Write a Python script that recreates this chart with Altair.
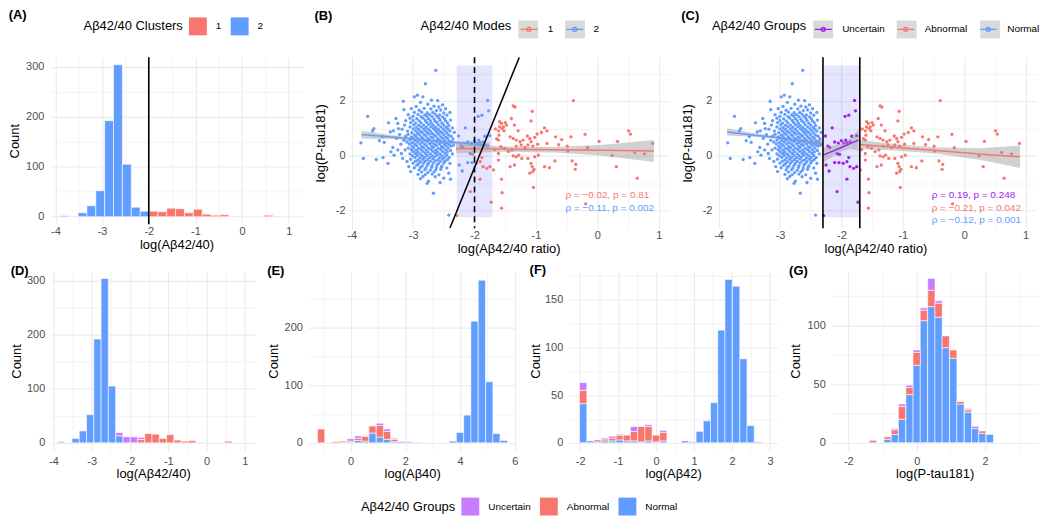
import altair as alt
import pandas as pd

FONT = "Liberation Sans"
BLUE = "#619CFF"
RED = "#F8766D"
LIGHT_PURPLE = "#C77CFF"
PURPLE = "#A020F0"
GRID = "#EBEBEB"

GROUPS = ["Uncertain", "Abnormal", "Normal"]
MODES = ["1", "2"]

# ---------------- histogram data (bin centres and counts) ----------------
ratio_bin_width = 0.19
ratio_centers = [-3.80, -3.61, -3.42, -3.23, -3.04, -2.85, -2.66, -2.47, -2.28, -2.09,
                 -1.90, -1.71, -1.52, -1.33, -1.14, -0.95, -0.76, -0.57, -0.38, -0.19,
                 0.00, 0.19, 0.38, 0.57]
cluster2_counts = [2, 0, 8, 22, 52, 192, 304, 105, 19, 11, 0, 0, 0, 0, 0, 0, 0, 0, 0, 0, 0, 0, 0, 0]
cluster1_counts = [0, 0, 0, 0, 0, 0, 0, 0, 0, 0, 11, 10, 17, 16, 8, 15, 5, 3, 4, 1, 0, 0, 0, 3]
ratio_normal = [2, 0, 8, 22, 52, 192, 304, 105, 13, 0, 0, 0, 0, 0, 0, 0, 0, 0, 0, 0, 0, 0, 0, 0]
ratio_abnormal = [0, 0, 0, 0, 0, 0, 0, 0, 0, 0, 0, 6, 17, 16, 8, 15, 5, 3, 4, 1, 0, 0, 0, 3]
ratio_uncertain = [0, 0, 0, 0, 0, 0, 0, 0, 6, 11, 11, 4, 0, 0, 0, 0, 0, 0, 0, 0, 0, 0, 0, 0]
cluster_threshold = [-2.0]

ab40_bin_width = 0.2667
ab40_centers = [-1.08, -0.81, -0.55, -0.28, 0.00, 0.27, 0.53, 0.80, 1.07, 1.33, 1.60, 1.87, 2.13,
                2.40, 2.67, 2.93, 3.20, 3.47, 3.73, 4.00, 4.27, 4.53, 4.80, 5.07, 5.33, 5.60]
ab40_normal = [0, 0, 0, 1, 1, 4, 3, 17, 10, 6, 2, 2, 0, 0, 0, 0, 0, 0, 3, 18, 48, 211, 282, 106, 16, 4]
ab40_abnormal = [24, 0, 2, 2, 2, 4, 8, 12, 20, 14, 4, 0, 0, 0, 0, 0, 0, 0, 0, 0, 0, 0, 0, 0, 0, 0]
ab40_uncertain = [0, 0, 0, 0, 4, 4, 0, 0, 4, 4, 2, 0, 2, 1, 0, 0, 0, 0, 0, 0, 0, 0, 0, 0, 0, 0]

ab42_bin_width = 0.1916
ab42_centers = [-1.92, -1.73, -1.54, -1.35, -1.15, -0.96, -0.77, -0.58, -0.39, -0.20, 0.00, 0.19,
                0.38, 0.57, 0.76, 0.95, 1.15, 1.34, 1.53, 1.72, 1.91, 2.11, 2.30, 2.49, 2.68]
ab42_normal = [41, 2, 1, 2, 2, 3, 2, 2, 1, 2, 1, 2, 0, 0, 2, 1, 12, 23, 42, 118, 171, 164, 88, 18, 1]
ab42_abnormal = [14, 0, 2, 2, 3, 5, 6, 10, 16, 15, 7, 9, 0, 0, 0, 0, 0, 0, 0, 0, 0, 0, 0, 0, 0]
ab42_uncertain = [8, 0, 0, 1, 2, 1, 0, 5, 0, 2, 0, 2, 0, 0, 0, 0, 0, 0, 0, 0, 0, 0, 0, 0, 0]

ptau_bin_width = 0.2136
ptau_centers = [-1.28, -1.07, -0.85, -0.64, -0.43, -0.21, 0.00, 0.21, 0.43, 0.64, 0.85, 1.07,
                1.28, 1.50, 1.71, 1.92, 2.14]
ptau_normal = [0, 0, 3, 7, 20, 41, 66, 104, 116, 107, 81, 72, 33, 26, 12, 8, 7]
ptau_abnormal = [2, 0, 2, 4, 11, 6, 11, 9, 14, 12, 10, 7, 2, 2, 0, 2, 0]
ptau_uncertain = [0, 0, 0, 1, 2, 2, 2, 2, 10, 2, 0, 0, 0, 1, 2, 0, 0]

# ---------------- scatter data: (log Aβ42/40 ratio, log P-tau181) ----------------
normal_points = [
    (-2.63, 3.12), (-2.80, 2.63), (-2.93, 2.21), (-2.98, 2.15), (-2.84, 2.15),
    (-2.70, 2.03), (-2.60, 2.01), (-3.16, 1.99), (-2.88, 1.95), (-2.76, 1.88), (-2.52, 1.86),
    (-2.95, 1.80), (-2.66, 1.81), (-2.58, 1.78), (-3.03, 1.72), (-2.82, 1.73), (-2.71, 1.71), (-2.47, 1.72),
    (-3.15, 1.68), (-2.90, 1.66), (-2.62, 1.65), (-2.55, 1.67),
    (-2.98, 1.58), (-2.86, 1.59), (-2.77, 1.57), (-2.68, 1.58), (-2.50, 1.56), (-2.40, 1.58),
    (-3.08, 1.50), (-2.92, 1.51), (-2.81, 1.49), (-2.73, 1.50), (-2.64, 1.52), (-2.57, 1.49), (-2.45, 1.48),
    (-3.74, 1.44), (-3.00, 1.44), (-2.87, 1.43), (-2.78, 1.45), (-2.69, 1.43), (-2.61, 1.44), (-2.52, 1.42),
    (-3.28, 1.36), (-3.05, 1.37), (-2.94, 1.35), (-2.84, 1.37), (-2.75, 1.36), (-2.66, 1.34), (-2.58, 1.37),
    (-2.49, 1.35), (-2.39, 1.30),
    (-3.12, 1.28), (-3.00, 1.29), (-2.90, 1.27), (-2.80, 1.29), (-2.72, 1.28), (-2.64, 1.26), (-2.56, 1.29), (-2.47, 1.27),
    (-3.40, 1.20), (-3.25, 1.18), (-3.04, 1.21), (-2.96, 1.19), (-2.87, 1.20), (-2.78, 1.22), (-2.70, 1.19),
    (-2.61, 1.21), (-2.53, 1.19), (-2.44, 1.20),
    (-3.14, 1.12), (-2.99, 1.13), (-2.91, 1.11), (-2.83, 1.12), (-2.75, 1.14), (-2.67, 1.11), (-2.59, 1.13),
    (-2.50, 1.12), (-2.42, 1.10),
    (-3.24, 0.99), (-3.05, 1.05), (-2.95, 1.03), (-2.87, 1.05), (-2.79, 1.04), (-2.71, 1.06), (-2.63, 1.03),
    (-2.55, 1.05), (-2.46, 1.04), (-2.36, 1.02),
    (-3.64, 0.99), (-3.18, 0.97), (-3.00, 0.98), (-2.91, 0.96), (-2.83, 0.98), (-2.75, 0.97), (-2.67, 0.99),
    (-2.59, 0.96), (-2.51, 0.98), (-2.43, 0.97),
    (-3.66, 0.91), (-3.32, 0.91), (-3.09, 0.90), (-2.96, 0.91), (-2.88, 0.89), (-2.80, 0.91), (-2.72, 0.90),
    (-2.64, 0.92), (-2.56, 0.89), (-2.48, 0.91), (-2.40, 0.90),
    (-3.37, 0.87), (-3.02, 0.84), (-2.93, 0.83), (-2.85, 0.85), (-2.77, 0.84), (-2.69, 0.82), (-2.61, 0.85),
    (-2.53, 0.84), (-2.45, 0.83), (-2.33, 0.85),
    (-3.22, 0.77), (-3.08, 0.78), (-2.98, 0.76), (-2.90, 0.78), (-2.82, 0.77), (-2.74, 0.79), (-2.66, 0.76),
    (-2.58, 0.78), (-2.50, 0.77), (-2.42, 0.75),
    (-3.50, 0.70), (-3.12, 0.71), (-3.03, 0.69), (-2.95, 0.71), (-2.87, 0.70), (-2.79, 0.72), (-2.71, 0.69),
    (-2.63, 0.71), (-2.55, 0.70), (-2.47, 0.68), (-2.38, 0.71),
    (-3.27, 0.63), (-3.00, 0.64), (-2.92, 0.62), (-2.84, 0.64), (-2.76, 0.63), (-2.68, 0.65), (-2.60, 0.62),
    (-2.52, 0.64), (-2.44, 0.63), (-2.35, 0.61),
    (-3.55, 0.55), (-3.15, 0.56), (-3.05, 0.57), (-2.97, 0.55), (-2.89, 0.57), (-2.81, 0.56), (-2.73, 0.58),
    (-2.65, 0.55), (-2.57, 0.57), (-2.49, 0.56), (-2.41, 0.54),
    (-3.85, 0.47), (-3.47, 0.49), (-3.10, 0.50), (-3.01, 0.48), (-2.93, 0.50), (-2.85, 0.49), (-2.77, 0.51),
    (-2.69, 0.48), (-2.61, 0.50), (-2.53, 0.49), (-2.45, 0.47), (-2.37, 0.50),
    (-3.20, 0.42), (-3.06, 0.43), (-2.97, 0.41), (-2.89, 0.43), (-2.81, 0.42), (-2.73, 0.44), (-2.65, 0.41),
    (-2.57, 0.43), (-2.49, 0.42), (-2.41, 0.40), (-2.34, 0.39),
    (-3.33, 0.30), (-3.02, 0.35), (-2.94, 0.36), (-2.86, 0.34), (-2.78, 0.36), (-2.70, 0.35), (-2.62, 0.37),
    (-2.54, 0.34), (-2.46, 0.36), (-2.38, 0.35),
    (-3.25, 0.21), (-3.08, 0.28), (-2.99, 0.29), (-2.91, 0.27), (-2.83, 0.29), (-2.75, 0.28), (-2.67, 0.30),
    (-2.59, 0.27), (-2.51, 0.29), (-2.43, 0.28),
    (-3.13, 0.21), (-3.03, 0.22), (-2.95, 0.20), (-2.87, 0.22), (-2.79, 0.21), (-2.71, 0.23), (-2.63, 0.20),
    (-2.55, 0.22), (-2.47, 0.21), (-2.39, 0.19),
    (-3.36, 0.14), (-3.00, 0.15), (-2.92, 0.13), (-2.84, 0.15), (-2.76, 0.14), (-2.68, 0.16), (-2.60, 0.13),
    (-2.52, 0.15), (-2.44, 0.14),
    (-3.19, 0.08), (-3.05, 0.07), (-2.96, 0.08), (-2.88, 0.06), (-2.80, 0.08), (-2.72, 0.07), (-2.64, 0.09),
    (-2.56, 0.06), (-2.48, 0.08), (-2.36, 0.07),
    (-3.31, 0.02), (-3.01, 0.00), (-2.93, 0.01), (-2.85, -0.01), (-2.77, 0.01), (-2.69, 0.00), (-2.61, 0.02),
    (-2.53, -0.01), (-2.45, 0.01),
    (-3.81, -0.10), (-3.49, -0.07), (-3.17, -0.10), (-2.97, -0.06), (-2.89, -0.08), (-2.81, -0.06),
    (-2.73, -0.07), (-2.65, -0.05), (-2.57, -0.08), (-2.49, -0.06), (-2.41, -0.07),
    (-3.60, -0.14), (-3.04, -0.13), (-2.92, -0.15), (-2.84, -0.13), (-2.76, -0.14), (-2.68, -0.12),
    (-2.60, -0.15), (-2.52, -0.13), (-2.44, -0.14),
    (-3.10, -0.21), (-2.96, -0.20), (-2.88, -0.22), (-2.80, -0.20), (-2.72, -0.21), (-2.64, -0.19),
    (-2.56, -0.22), (-2.48, -0.20),
    (-3.41, -0.28), (-3.00, -0.27), (-2.91, -0.29), (-2.83, -0.27), (-2.75, -0.28), (-2.67, -0.26),
    (-2.59, -0.29), (-2.50, -0.27), (-2.40, -0.28),
    (-3.07, -0.40), (-2.94, -0.35), (-2.85, -0.37), (-2.77, -0.35), (-2.69, -0.36), (-2.61, -0.34), (-2.53, -0.37),
    (-2.98, -0.44), (-2.88, -0.43), (-2.79, -0.45), (-2.70, -0.43), (-2.62, -0.44), (-2.54, -0.42), (-2.45, -0.45),
    (-3.04, -0.58), (-2.90, -0.52), (-2.81, -0.51), (-2.72, -0.53), (-2.63, -0.52), (-2.55, -0.50),
    (-2.86, -0.60), (-2.76, -0.61), (-2.66, -0.59), (-2.42, -0.64),
    (-2.92, -0.68), (-2.80, -0.69), (-2.69, -0.67), (-2.58, -0.70),
    (-2.84, -0.76), (-2.64, -0.77), (-2.50, -0.82),
    (-2.88, -0.84), (-2.39, -0.86),
    (-2.75, -0.93), (-2.56, -0.98),
    (-2.77, -1.01), (-2.67, -1.37), (-2.42, -2.17),
]

# points in the uncertain window, with their mode in panel (B)
uncertain_points = [
    (-1.785, 2.02, "2"), (-1.94, 1.44, "2"), (-1.88, 1.48, "2"), (-1.77, 1.64, "2"), (-2.15, 1.02, "2"),
    (-2.26, 0.72, "2"), (-2.00, 0.55, "2"), (-2.05, 0.46, "2"), (-2.11, 0.50, "2"), (-1.96, 0.46, "2"),
    (-1.91, 0.48, "2"), (-1.86, 0.50, "2"), (-1.83, 0.71, "2"), (-1.75, 0.73, "2"), (-1.93, 0.57, "2"),
    (-2.22, 0.35, "2"), (-2.19, 0.30, "2"), (-2.07, 0.08, "2"), (-2.03, 0.05, "1"), (-2.11, -0.25, "2"),
    (-2.04, -0.25, "2"), (-1.97, -0.28, "1"), (-1.91, -0.22, "1"), (-1.88, -0.07, "1"), (-2.25, -0.34, "2"),
    (-2.20, -0.56, "2"), (-1.86, -0.40, "1"), (-1.75, -0.40, "1"), (-1.80, -0.46, "1"), (-1.91, -0.86, "1"),
    (-2.07, -1.31, "1"), (-2.29, -2.19, "1"), (-1.73, -1.70, "1"),
]

abnormal_points = [
    (-0.39, 2.01), (-1.37, 1.82), (-1.34, 1.78), (-1.06, 1.62), (-1.40, 1.36), (-1.08, 1.27),
    (-1.59, 1.24), (-1.56, 1.18), (-1.50, 1.21), (-1.48, 1.12), (-1.53, 1.05), (-1.59, 1.05), (-1.55, 0.99),
    (-1.52, 0.91), (-1.61, 0.91), (-1.60, 0.75), (-1.66, 0.98), (-1.64, 0.62), (-1.35, 1.12), (-1.29, 0.91),
    (-0.86, 1.02), (-0.82, 0.91), (-0.91, 0.85), (-0.98, 0.79), (-1.14, 0.72), (-1.21, 0.57), (-1.26, 0.51),
    (-1.32, 0.57), (-1.37, 0.63), (-1.42, 0.69), (-1.02, 0.67), (-1.10, 0.63), (-1.08, 0.51), (-0.97, 0.42),
    (-1.05, 0.35), (-1.13, 0.39), (-1.18, 0.30), (-1.24, 0.39), (-1.32, 0.35), (-1.39, 0.21), (-1.45, 0.15),
    (-1.51, 0.27), (-1.57, 0.33), (-1.61, 0.57), (-1.61, 0.08), (-1.67, 0.22), (-1.37, -0.01), (-1.32, -0.04),
    (-1.28, 0.02), (-1.23, -0.10), (-1.42, -0.40), (-1.35, -0.34), (-1.13, -0.10), (-1.02, -0.04), (-0.96, 0.02),
    (-1.08, -0.28), (-1.06, -0.40), (-1.03, -0.50), (-1.10, -0.64), (-1.05, -0.58), (-0.86, -0.40),
    (-0.78, -0.44), (-0.82, 0.45), (-0.68, 0.69), (-0.58, 0.59), (-0.43, 0.69), (-0.49, 0.35), (-0.63, 0.40),
    (-0.48, 0.17), (-0.69, -0.19), (-0.41, -0.19), (-0.35, -0.32), (-0.36, -0.50), (-0.20, 0.78),
    (-0.16, 0.29), (0.03, 0.52), (0.24, 0.00), (0.31, -0.40), (0.33, 0.52), (0.51, 0.91), (0.54, 0.79),
    (0.61, 0.12), (0.77, 0.07), (0.65, -0.82), (0.90, 0.45), (-0.19, -1.76), (-1.56, -0.86),
    (-1.55, -1.35), (-1.56, -1.92), (-1.04, -1.16), (-1.69, -0.52), (-1.61, -0.16),
]

# fitted lines and 95% bands
fitB2_x = [-3.84, -3.30, -2.75, -2.25, -1.76]
fitB2_y = [0.77, 0.67, 0.56, 0.47, 0.37]
fitB2_lo = [0.63, 0.60, 0.52, 0.41, 0.25]
fitB2_hi = [0.91, 0.74, 0.60, 0.53, 0.49]
fitB1_x = [-2.30, -1.50, -0.70, 0.10, 0.92]
fitB1_y = [0.26, 0.24, 0.22, 0.20, 0.17]
fitB1_lo = [0.08, 0.14, 0.12, 0.00, -0.23]
fitB1_hi = [0.44, 0.34, 0.32, 0.40, 0.57]

fitN_x = [-3.86, -3.45, -3.05, -2.68, -2.31]
fitN_y = [0.87, 0.76, 0.66, 0.55, 0.45]
fitN_lo = [0.74, 0.69, 0.61, 0.49, 0.34]
fitN_hi = [1.00, 0.83, 0.71, 0.61, 0.56]
fitU_x = [-2.30, -2.15, -2.00, -1.86, -1.72]
fitU_y = [0.02, 0.16, 0.30, 0.44, 0.57]
fitU_lo = [-0.26, -0.04, 0.16, 0.24, 0.18]
fitU_hi = [0.30, 0.36, 0.44, 0.64, 0.96]
fitA_x = [-1.71, -1.05, -0.40, 0.25, 0.91]
fitA_y = [0.41, 0.29, 0.18, 0.06, -0.04]
fitA_lo = [0.24, 0.18, 0.06, -0.15, -0.45]
fitA_hi = [0.58, 0.40, 0.30, 0.27, 0.37]

window_x = [-2.29, -1.71]
window_y = [-2.25, 3.30]
window_lines = [-2.3, -1.7]
mode_cut = [-2.0]
sep_line_x = [-2.40, -1.27]
sep_line_y = [-2.64, 3.60]

annB_text = ["ρ = −0.02, p = 0.81", "ρ = −0.11, p = 0.002"]
annB_mode = ["1", "2"]
annB_x = [-0.52, -0.52]
annB_y = [-1.45, -1.93]
annC_text = ["ρ = 0.19, p = 0.248", "ρ = −0.21, p = 0.042", "ρ = −0.12, p = 0.001"]
annC_group = ["Uncertain", "Abnormal", "Normal"]
annC_x = [-0.53, -0.53, -0.53]
annC_y = [-1.42, -1.90, -2.36]

# tick / grid positions
ratio_ticks = [-4, -3.5, -3, -2.5, -2, -1.5, -1, -0.5, 0, 0.5, 1]
count_ticks_300 = [0, 50, 100, 150, 200, 250, 300]
ptau_axis_ticks = [-2, -1, 0, 1, 2, 3]
ab40_ticks = [-1, 0, 1, 2, 3, 4, 5, 6]
count_ticks_250 = [0, 50, 100, 150, 200, 250]
ab42_ticks = [-2, -1.5, -1, -0.5, 0, 0.5, 1, 1.5, 2, 2.5, 3]
count_ticks_175 = [0, 25, 50, 75, 100, 125, 150, 175]
ptau_ticks = [-2, -1, 0, 1, 2, 3]
count_ticks_125 = [0, 25, 50, 75, 100, 125]

# ---------------- helpers ----------------
def stacked(centers, width, series):
    rows = []
    base = [0] * len(centers)
    for name, counts in series:
        for i, n in enumerate(counts):
            if n > 0:
                rows.append({"x0": centers[i] - width / 2, "x1": centers[i] + width / 2,
                             "y0": base[i], "y1": base[i] + n, "grp": name})
                base[i] += n
    return pd.DataFrame(rows)


def gaxis(title, values, major, label_pad=3, title_pad=2):
    test = f"abs(datum.value % {major}) < 1e-9"
    return alt.Axis(title=title, values=values,
                    labelExpr=f"({test}) ? '' + datum.value : ''",
                    gridWidth={"condition": {"test": f"!({test})", "value": 0.6}, "value": 1.1},
                    labelPadding=label_pad, titlePadding=title_pad,
                    labelOverlap=False, labelFlush=False)


def sc(dom):
    return alt.Scale(domain=dom, nice=False, zero=False)


def tag(text, offset):
    return alt.TitleParams(text, anchor="start", offset=offset)


SQUARE_LEG = dict(orient="none", direction="horizontal", titleOrient="left",
                  titleAnchor="middle", titleBaseline="middle",
                  symbolType="square", symbolSize=324, symbolStrokeWidth=0,
                  labelOffset=9, columnPadding=9, titlePadding=6)

RECT_PATH = "M-1,-0.9H1V0.9H-1Z"
LINE_DOT = "M-0.85,0H0.85M-0.2,0A0.2,0.2,0,1,0,0.2,0A0.2,0.2,0,1,0,-0.2,0Z"

cluster_scale = alt.Scale(domain=MODES, range=[RED, BLUE])
group_hist_scale = alt.Scale(domain=GROUPS, range=[LIGHT_PURPLE, RED, BLUE])
group_scatter_scale = alt.Scale(domain=GROUPS, range=[PURPLE, RED, BLUE])


def hist_panel(df, label, xdom, xticks, xmajor, xtitle, ydom, yticks, ymajor, w, h,
               label_pad, title_pad, tag_offset, x_pads=(5, 1), legend=None, scale=group_hist_scale,
               rule_values=None):
    ax = gaxis(xtitle, xticks, xmajor, x_pads[0], x_pads[1])
    x = alt.X("x0:Q", scale=sc(xdom), axis=ax)
    y = alt.Y("y0:Q", scale=sc(ydom), axis=gaxis("Count", yticks, ymajor, label_pad, title_pad))
    bars = alt.Chart(df).mark_bar(stroke="white", strokeWidth=0.6).encode(
        x=x, x2="x1:Q", y=y, y2="y1:Q",
        color=alt.Color("grp:N", scale=scale, legend=legend))
    layers = [bars]
    if rule_values is not None:
        layers.append(alt.Chart(pd.DataFrame({"x0": rule_values})).mark_rule(color="black", strokeWidth=1.6)
                      .encode(x=x))
    return alt.layer(*layers).properties(width=w, height=h, title=tag(label, tag_offset))


# ---------------- panel A ----------------
dfA = stacked(ratio_centers, ratio_bin_width, [("2", cluster2_counts), ("1", cluster1_counts)])
legA = alt.Legend(title="Aβ42/40 Clusters", legendX=33, legendY=-40, **SQUARE_LEG)
panelA = hist_panel(dfA, "(A)", [-4.1, 1.29], ratio_ticks, 1, "log(Aβ42/40)", [-15, 319], count_ticks_300, 100,
                    253, 168, 7, 4, -5, x_pads=(1.5, 2), legend=legA, scale=cluster_scale,
                    rule_values=cluster_threshold)

# ---------------- scatter panels ----------------
SX = [-4.06, 1.17]
SY = [-2.65, 3.60]
AX_S = gaxis("log(Aβ42/40 ratio)", ratio_ticks, 1, 1, 2)
AY_S = gaxis("log(P-tau181)", ptau_axis_ticks, 2, 3, 8)

rows = []
for x, y in normal_points:
    rows.append({"x": x, "y": y, "group": "Normal", "mode": "2"})
for x, y, m in uncertain_points:
    rows.append({"x": x, "y": y, "group": "Uncertain", "mode": m})
for x, y in abnormal_points:
    rows.append({"x": x, "y": y, "group": "Abnormal", "mode": "1"})
pts = pd.DataFrame(rows)


def fit_df(specs, key):
    out = []
    for k, xs_, ys_, lo, hi in specs:
        for a, b, c, d in zip(xs_, ys_, lo, hi):
            out.append({key: k, "fx": a, "fy": b, "lo": c, "hi": d})
    return pd.DataFrame(out)


def xs(field):
    return alt.X(field, type="quantitative", scale=sc(SX), axis=AX_S)


def ys(field):
    return alt.Y(field, type="quantitative", scale=sc(SY), axis=AY_S)


window_df = pd.DataFrame({"x0": [window_x[0]], "x1": [window_x[1]], "y0": [window_y[0]], "y1": [window_y[1]]})


def scatter_panel(label, key, scale, legend_title, legend_x, title_width, fits, ann, extra_top):
    window = alt.Chart(window_df).mark_rect(color="#0000FF", opacity=0.1).encode(
        x=xs("x0"), x2="x1:Q", y=ys("y0"), y2="y1:Q")
    # same colours, domain listed in reverse order so this (legend-less) scale is kept apart from the legend one
    fill_scale = alt.Scale(domain=list(reversed(scale.domain)), range=list(reversed(scale.range)))
    points = alt.Chart(pts).mark_circle(size=11, opacity=1).encode(
        x=xs("x"), y=ys("y"), fill=alt.Fill(f"{key}:N", scale=fill_scale, legend=None))
    fdf = fit_df(fits, key)
    band = alt.Chart(fdf).mark_area(color="#999999", opacity=0.45, clip=True).encode(
        x=xs("fx"), y=ys("lo"), y2="hi:Q", detail=f"{key}:N")
    common = dict(orient="none", legendY=-39, direction="horizontal",
                  titleOrient="left", titleAnchor="middle", titleBaseline="middle",
                  symbolSize=400, symbolStrokeWidth=1.4, labelOffset=8, columnPadding=9, titlePadding=6)
    line_leg = alt.Legend(title=legend_title, symbolType=LINE_DOT, zindex=2, legendX=legend_x, **common)
    lines = alt.Chart(fdf).mark_line(strokeWidth=1.5, clip=True).encode(
        x=xs("fx"), y=ys("fy"), color=alt.Color(f"{key}:N", scale=scale, legend=line_leg))
    # grey key backgrounds: an untitled legend placed where the entries of the line legend start
    gray_leg = alt.Legend(title=None, symbolFillColor="#D9D9D9", symbolStrokeColor="#D9D9D9",
                          labelOpacity=0, zindex=1, legendX=legend_x + title_width + 6,
                          labelExpr="replace(datum.label, '_', '')", **common)
    key_domain = [d + "_" for d in scale.domain]
    keys = alt.Chart(pts).mark_point(filled=True, color="#D9D9D9", size=400, opacity=1).encode(
        x=xs("x"), y=ys("y"),
        shape=alt.Shape("gkey:N", scale=alt.Scale(domain=key_domain, range=[RECT_PATH] * len(key_domain)),
                        legend=gray_leg)
    ).transform_calculate(gkey=f"datum['{key}'] + '_'").transform_filter("false")
    adf = pd.DataFrame(ann)
    texts = alt.Chart(adf).mark_text(align="left", baseline="middle", fontSize=10, font=FONT).encode(
        x=xs("ax"), y=ys("ay"), text="t:N", fill=alt.Fill(f"{key}:N", scale=fill_scale, legend=None))
    return alt.layer(window, points, band, lines, *extra_top, texts, keys).properties(
        width=323, height=172, title=tag(label, -5))


mode_dash = alt.Chart(pd.DataFrame({"v": mode_cut})).mark_rule(
    color="black", strokeWidth=1.6, strokeDash=[6, 4]).encode(x=xs("v"))
sep = alt.Chart(pd.DataFrame({"lx": sep_line_x, "ly": sep_line_y})).mark_line(
    color="black", strokeWidth=1.5, clip=True).encode(x=xs("lx"), y=ys("ly"))
panelB = scatter_panel(
    "(B)", "mode", cluster_scale, "Aβ42/40 Modes", 73, 91.3,
    [("2", fitB2_x, fitB2_y, fitB2_lo, fitB2_hi), ("1", fitB1_x, fitB1_y, fitB1_lo, fitB1_hi)],
    {"t": annB_text, "mode": annB_mode, "ax": annB_x, "ay": annB_y},
    [mode_dash, sep])

win_lines = alt.Chart(pd.DataFrame({"v": window_lines})).mark_rule(color="black", strokeWidth=1.6).encode(x=xs("v"))
panelC = scatter_panel(
    "(C)", "group", group_scatter_scale, "Aβ42/40 Groups", -3, 94.9,
    [("Normal", fitN_x, fitN_y, fitN_lo, fitN_hi), ("Uncertain", fitU_x, fitU_y, fitU_lo, fitU_hi),
     ("Abnormal", fitA_x, fitA_y, fitA_lo, fitA_hi)],
    {"t": annC_text, "group": annC_group, "ax": annC_x, "ay": annC_y},
    [win_lines])

# ---------------- bottom row ----------------
dfD = stacked(ratio_centers, ratio_bin_width,
              [("Normal", ratio_normal), ("Abnormal", ratio_abnormal), ("Uncertain", ratio_uncertain)])
dfE = stacked(ab40_centers, ab40_bin_width,
              [("Normal", ab40_normal), ("Abnormal", ab40_abnormal), ("Uncertain", ab40_uncertain)])
dfF = stacked(ab42_centers, ab42_bin_width,
              [("Normal", ab42_normal), ("Abnormal", ab42_abnormal), ("Uncertain", ab42_uncertain)])
dfG = stacked(ptau_centers, ptau_bin_width,
              [("Normal", ptau_normal), ("Abnormal", ptau_abnormal), ("Uncertain", ptau_uncertain)])

panelD = hist_panel(dfD, "(D)", [-4.07, 1.28], ratio_ticks, 1, "log(Aβ42/40)", [-15, 318],
                    count_ticks_300, 100, 206, 181, 6, 3, -7)
panelE = hist_panel(dfE, "(E)", [-1.55, 6.05], ab40_ticks, 2, "log(Aβ40)", [-14, 298],
                    count_ticks_250, 100, 209, 181, 6, 4, -7)
panelF = hist_panel(dfF, "(F)", [-2.3, 3.2], ab42_ticks, 1, "log(Aβ42)", [-8.5, 180],
                    count_ticks_175, 50, 210, 181, 6, 2, -7)
panelG = hist_panel(dfG, "(G)", [-2.5, 3.55], ptau_ticks, 2, "log(P-tau181)", [-7, 146.4],
                    count_ticks_125, 50, 208, 181, 6, 5, -7)

legend_row = alt.Chart(pd.DataFrame({"grp": GROUPS})).mark_square(filled=True, opacity=1).encode(
    color=alt.Color("grp:N", scale=group_hist_scale,
                    legend=alt.Legend(title="Aβ42/40 Groups", legendX=312, legendY=9, **SQUARE_LEG))
).transform_filter("false").properties(width=1, height=1)

RES = dict(color="independent", shape="independent", fill="independent")
top = alt.hconcat(panelA, panelB, panelC, spacing=12).resolve_scale(**RES)
bottom = alt.hconcat(panelD, panelE, panelF, panelG, spacing=11).resolve_scale(**RES)

chart = alt.vconcat(top, bottom, legend_row, spacing=8).resolve_scale(**RES).properties(
    padding=0, background="white"
).configure_view(stroke=None).configure_axis(
    domain=False, ticks=False, tickSize=0, labelFont=FONT, titleFont=FONT, labelFontSize=11,
    titleFontSize=13, labelColor="#4D4D4D", titleColor="black", titleFontWeight="normal", gridColor=GRID
).configure_legend(
    labelFont=FONT, titleFont=FONT, labelFontSize=10, titleFontSize=13, titleFontWeight="normal",
    labelColor="black", titleColor="black"
).configure_title(font=FONT, fontSize=13, fontWeight="bold", color="black", anchor="start")

chart.save("out.html", embed_options={"renderer": "svg", "actions": False})
